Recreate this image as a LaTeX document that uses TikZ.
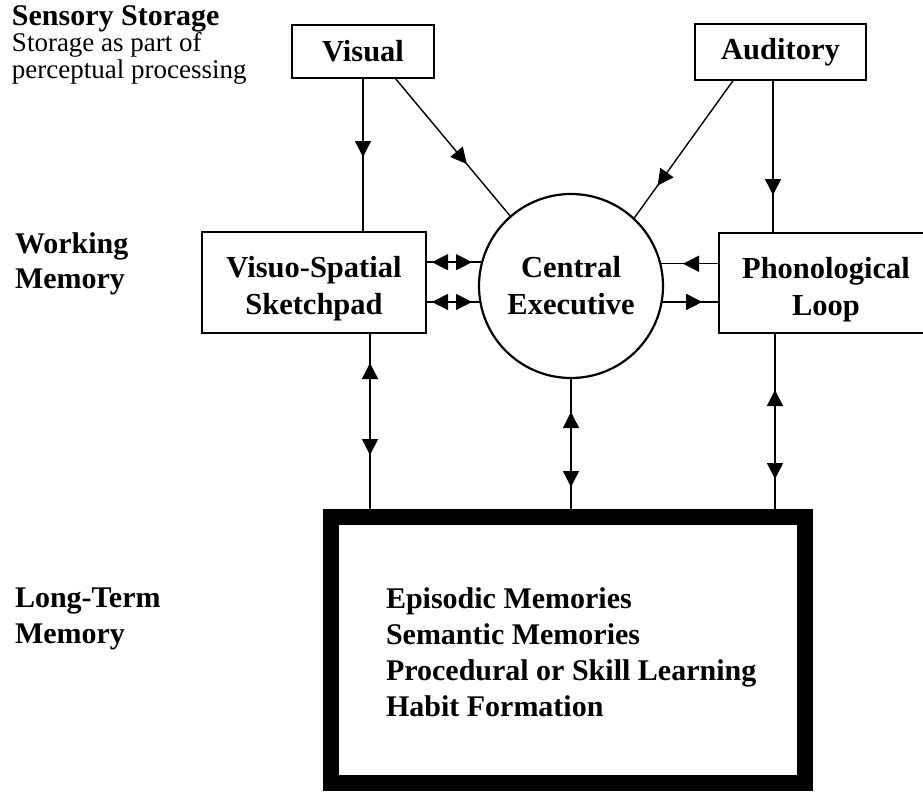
\documentclass[tikz,border=0pt]{standalone}
\usepackage{fontspec}
\setmainfont{Liberation Serif}
\usetikzlibrary{arrows.meta,decorations.markings,calc}
\begin{document}
\begin{tikzpicture}[x=1pt,y=-1pt,
  >={Triangle[length=16pt,width=16pt]},
  box/.style={draw, line width=2.2pt, inner sep=0pt, outer sep=0pt, align=center,
    font=\bfseries\fontsize{30.5}{37}\selectfont},
  lab/.style={inner sep=0pt, outer sep=0pt, anchor=base west, font=\bfseries\fontsize{30}{36}\selectfont},
  labr/.style={inner sep=0pt, outer sep=0pt, anchor=base west, font=\fontsize{27}{32}\selectfont},
  conn/.style={line width=1.4pt},
  fwd/.style={postaction={decorate, decoration={markings, mark=at position #1 with {\arrow{>}}}}},
  bwd/.style={postaction={decorate, decoration={markings, mark=at position #1 with {\arrowreversed{>}}}}}
]
\clip (0,0) rectangle (923,792);
\fill[white] (0,0) rectangle (923,792);

% side labels
\node[lab]  (ss1) at (12,25.5) {Sensory Storage};
\node[labr] (ss2) at (12,52) {Storage as part of};
\node[labr] (ss3) at (12,78) {perceptual processing};
\node[lab]  (wm1) at (15,253) {Working};
\node[lab]  (wm2) at (15,288) {Memory};
\node[lab]  (lt1) at (15,607) {Long-Term};
\node[lab]  (lt2) at (15,643) {Memory};

% boxes
\node[box, minimum width=142pt, minimum height=53pt] (vis) at (363,51.5) {Visual};
\node[box, minimum width=171pt, minimum height=56pt] (aud) at (780.5,52) {Auditory};
\node[box, minimum width=224pt, minimum height=101pt] (vss) at (314,282.5) {\raisebox{-4pt}[22pt][3pt]{Visuo-Spatial}\\\raisebox{-4pt}[22pt][3pt]{Sketchpad}};
\node[box, minimum width=214pt, minimum height=100pt] (pl) at (826,283) {\raisebox{-4pt}[22pt][3pt]{Phonological}\\\raisebox{-4pt}[22pt][3pt]{Loop}};
\node[box, circle, minimum size=184pt] (ce) at (571,286) {Central\\Executive};
\node[draw, line width=16pt, inner sep=0pt, outer sep=0pt, minimum width=474pt, minimum height=266pt] (ltm) at (568,650) {};

% long-term memory contents
\node[lab] (ep) at (386,608) {Episodic Memories};
\node[lab] (se) at (386,644) {Semantic Memories};
\node[lab] (pr) at (386,680) {Procedural or Skill Learning};
\node[lab] (ha) at (386,716) {Habit Formation};

% sensory to working memory
\draw[conn, fwd=79pt] (vis.south) -- (vis.south |- vss.north);
\coordinate (vd) at ($(vis.south)+(32,0)$);
\draw[conn, fwd=112pt] (vd) -- (ce.131);
\coordinate (ad) at ($(aud.south)+(-47,0)$);
\draw[conn, fwd=130pt] (ad) -- (ce.47);
\coordinate (a1) at ($(aud.south)+(-7.5,0)$);
\draw[conn, fwd=115pt] (a1) -- (a1 |- pl.north);

% central executive links
\draw[conn, bwd=6pt, fwd=46pt] (ce.165.5 -| vss.east) -- (ce.165.5);
\draw[conn, bwd=6pt, fwd=46pt] (ce.190.6 -| vss.east) -- (ce.190.6);
\draw[conn, fwd=36pt] (ce.14.5 -| pl.west) -- (ce.14.5);
\draw[conn, fwd=40.6pt] (ce.-10.6) -- (ce.-10.6 -| pl.west);

% working memory to long-term memory
\coordinate (v1) at ($(vss.south)+(56,0)$);
\draw[conn, bwd=30pt, fwd=122pt] (v1) -- (v1 |- ltm.north);
\draw[conn, bwd=34pt, fwd=109pt] (ce.south) -- (ce.south |- ltm.north);
\coordinate (p1) at ($(pl.south)+(-51,0)$);
\draw[conn, bwd=57pt, fwd=146pt] (p1) -- (p1 |- ltm.north);
\end{tikzpicture}
\end{document}
